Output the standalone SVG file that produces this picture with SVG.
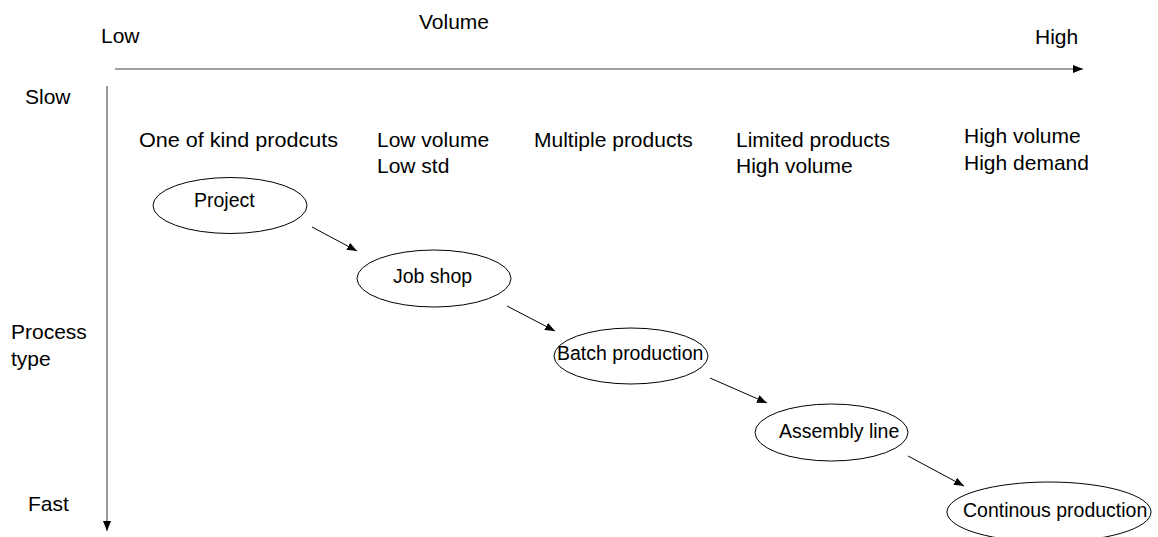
<svg xmlns="http://www.w3.org/2000/svg" width="1158" height="537" viewBox="0 0 1158 537">
<defs>
<style>
text{font-family:"Liberation Sans",Arial,sans-serif;font-size:21px;fill:#000}
.n text{font-size:19.5px}
.n ellipse{fill:#fff;stroke:#000;stroke-width:1}
.axis{stroke:#808080;stroke-width:1.6;fill:none}
.conn{stroke:#000;stroke-width:1;fill:none}
</style>
<marker id="ah" viewBox="0 0 10 8" refX="10" refY="4" markerWidth="10" markerHeight="8" markerUnits="userSpaceOnUse" orient="auto">
<path d="M0,0 L10,4 L0,8 Z" fill="#000"/>
</marker>
</defs>
<rect width="1158" height="537" fill="#fff"/>
<g id="axes">
<line class="axis" x1="115" y1="69" x2="1083" y2="69" marker-end="url(#ah)"/>
<line class="axis" x1="107" y1="86" x2="107" y2="531" marker-end="url(#ah)"/>
</g>
<g id="labels">
<text x="101" y="43">Low</text>
<text x="419" y="29">Volume</text>
<text x="1035" y="44">High</text>
<text x="25" y="104">Slow</text>
<text x="11" y="339">Process</text>
<text x="11" y="366">type</text>
<text x="28" y="511">Fast</text>
<text x="139" y="147" textLength="199" lengthAdjust="spacingAndGlyphs">One of kind prodcuts</text>
<text x="377" y="147">Low volume</text>
<text x="377" y="173">Low std</text>
<text x="534" y="147">Multiple products</text>
<text x="736" y="147">Limited products</text>
<text x="736" y="173">High volume</text>
<text x="964" y="143">High volume</text>
<text x="964" y="170">High demand</text>
</g>
<g id="connectors">
<line class="conn" x1="312" y1="227" x2="357" y2="251" marker-end="url(#ah)"/>
<line class="conn" x1="507" y1="306" x2="555" y2="331" marker-end="url(#ah)"/>
<line class="conn" x1="710" y1="378" x2="767" y2="403" marker-end="url(#ah)"/>
<line class="conn" x1="908" y1="456" x2="964" y2="486" marker-end="url(#ah)"/>
</g>
<g id="project" class="n">
<ellipse cx="230" cy="205.5" rx="77" ry="28"/>
<text x="194" y="207">Project</text>
</g>
<g id="jobshop" class="n">
<ellipse cx="434" cy="278.5" rx="77" ry="28.5"/>
<text x="393" y="283">Job shop</text>
</g>
<g id="batch" class="n">
<ellipse cx="631" cy="356" rx="77" ry="28"/>
<text x="557" y="360">Batch production</text>
</g>
<g id="assembly" class="n">
<ellipse cx="831.5" cy="432.5" rx="76.5" ry="28.5"/>
<text x="779" y="438">Assembly line</text>
</g>
<g id="continous" class="n">
<ellipse cx="1049" cy="512" rx="102" ry="30"/>
<text x="963" y="517">Continous production</text>
</g>
</svg>
